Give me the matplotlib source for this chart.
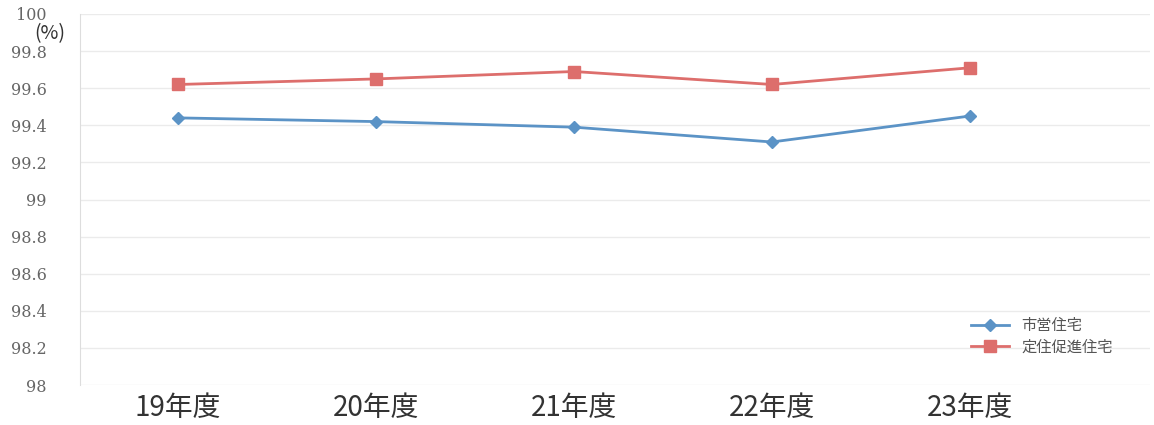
import numpy as np
import matplotlib.pyplot as plt
from matplotlib.ticker import FuncFormatter

plt.rcParams['font.family'] = ['Noto Sans CJK JP', 'DejaVu Sans']

years = ['19年度', '20年度', '21年度', '22年度', '23年度']
shiei = [99.44, 99.42, 99.39, 99.31, 99.45]      # 市営住宅
teijuu = [99.62, 99.65, 99.69, 99.62, 99.71]     # 定住促進住宅
yticks = [98, 98.2, 98.4, 98.6, 98.8, 99, 99.2, 99.4, 99.6, 99.8, 100]

fig = plt.figure(figsize=(11.54, 4.25), dpi=100)
ax = fig.add_axes([80/1154, 40/425, 1070/1154, 371/425])

x = np.arange(len(years))
ax.plot(x, shiei, color='#5b93c6', lw=2, marker='D', ms=6, label='市営住宅')
ax.plot(x, teijuu, color='#dd6e6c', lw=2, marker='s', ms=8, label='定住促進住宅')

ax.set_xlim(-0.495, 4.91)
ax.set_ylim(98, 100)
ax.set_yticks(yticks)
ax.yaxis.set_major_formatter(FuncFormatter(lambda v, p: '%g' % v))
ax.set_xticks(x)
ax.set_xticklabels(years, fontsize=20, color='#333333')
ax.tick_params(axis='y', length=0, pad=24, labelsize=11.5, labelcolor='#666666')
ax.tick_params(axis='x', length=0, pad=6)
for lab in ax.get_yticklabels():
    lab.set_family('DejaVu Serif')

ax.grid(axis='y', color='#ebebeb', lw=1)
ax.set_axisbelow(True)
for s in ['top', 'right', 'bottom']:
    ax.spines[s].set_visible(False)
ax.spines['left'].set_color('#dddddd')

fig.text(50/1154, 1 - 34/425, '(%)', fontsize=14, ha='center', va='center', color='#333333')

ax.legend(loc='upper left', bbox_to_anchor=(0.82, 0.22), frameon=False,
          fontsize=11, handlelength=2.5, labelcolor='#555555', labelspacing=0.3)

fig.savefig('out.png', dpi=100)
